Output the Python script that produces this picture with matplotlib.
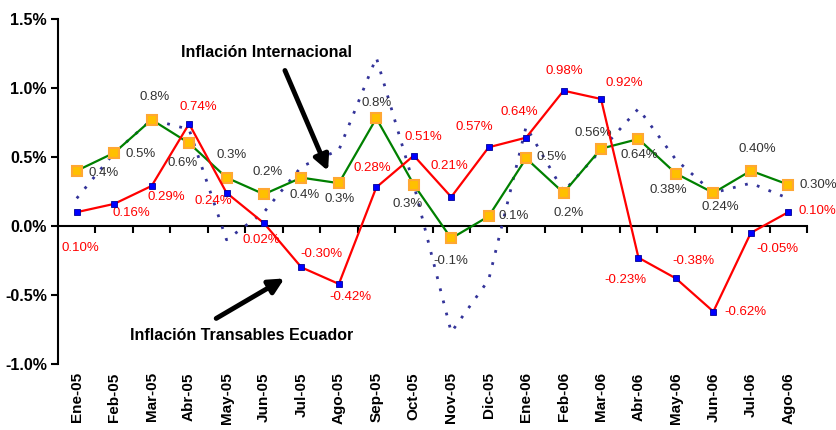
import matplotlib
matplotlib.use("Agg")
import matplotlib.pyplot as plt
import numpy as np

plt.rcParams['font.family'] = ['Liberation Sans', 'DejaVu Sans']

# Datos (% mensual)
meses = ["Ene-05", "Feb-05", "Mar-05", "Abr-05", "May-05", "Jun-05", "Jul-05",
         "Ago-05", "Sep-05", "Oct-05", "Nov-05", "Dic-05", "Ene-06", "Feb-06",
         "Mar-06", "Abr-06", "May-06", "Jun-06", "Jul-06", "Ago-06"]

transables = [0.10, 0.16, 0.29, 0.74, 0.24, 0.02, -0.30, -0.42, 0.28, 0.51,
              0.21, 0.57, 0.64, 0.98, 0.92, -0.23, -0.38, -0.62, -0.05, 0.10]
transables_txt = ["0.10%", "0.16%", "0.29%", "0.74%", "0.24%", "0.02%", "-0.30%",
                  "-0.42%", "0.28%", "0.51%", "0.21%", "0.57%", "0.64%", "0.98%",
                  "0.92%", "-0.23%", "-0.38%", "-0.62%", "-0.05%", "0.10%"]

verde = [0.40, 0.53, 0.77, 0.60, 0.35, 0.23, 0.35, 0.31, 0.78, 0.30,
         -0.09, 0.07, 0.49, 0.24, 0.56, 0.63, 0.38, 0.24, 0.40, 0.30]
verde_txt = ["0.4%", "0.5%", "0.8%", "0.6%", "0.3%", "0.2%", "0.4%", "0.3%",
             "0.8%", "0.3%", "-0.1%", "0.1%", "0.5%", "0.2%", "0.56%", "0.64%",
             "0.38%", "0.24%", "0.40%", "0.30%"]

internacional = [0.20, 0.53, 0.77, 0.70, -0.10, 0.10, 0.43, 0.55, 1.22, 0.30,
                 -0.77, -0.39, 0.72, 0.25, 0.55, 0.85, 0.48, 0.24, 0.31, 0.20]

# desplazamiento de las etiquetas (pixeles)
off_rojo = [(4, -36), (17, -9), (15, -11), (9, 17), (-13, -8), (-3, -17), (20, 13),
            (12, -13), (-4, 19), (10, 19), (-2, 31), (-14, 20), (-7, 26), (1, 20),
            (23, 16), (-13, -22), (18, 17), (32, 0), (27, -16), (29, 1)]
off_verde = [(27, -2), (26, -1), (3, 23), (-6, -20), (5, 23), (4, 22), (3, -17),
             (1, -16), (0, 15), (-6, -19), (0, -23), (25, 0), (25, 1), (5, -20),
             (-8, 16), (1, -16), (-8, -16), (7, -14), (6, 22), (30, 0)]

fig = plt.figure(figsize=(8.36, 4.30), dpi=100)
ax = fig.add_axes([0.0694, 0.1535, 0.8959, 0.8025])
x = np.arange(len(meses))

ax.plot(x, internacional, color='#333399', lw=2, linestyle=(0, (1, 3.5)), zorder=2)
ax.plot(x, verde, color='#008000', lw=1.6, marker='s', ms=7.5,
        mfc='#FFC000', mec='#FFA733', mew=1.5, zorder=3)
ax.plot(x, transables, color='#FF0000', lw=1.6, marker='s', ms=4.5,
        mfc='#0000FF', mec='#000099', mew=0.6, zorder=4)

for i in range(len(x)):
  ax.annotate(transables_txt[i], (x[i], transables[i]), xytext=off_rojo[i],
              textcoords='offset pixels', ha='center', va='center',
              fontsize=9.5, color='#FF0000')
  ax.annotate(verde_txt[i], (x[i], verde[i]), xytext=off_verde[i],
              textcoords='offset pixels', ha='center', va='center',
              fontsize=9.5, color='#333333')

# Ejes
ymin, ymax = -1.0, 1.5
ax.set_xlim(-0.5, len(meses) - 0.5)
ax.set_ylim(ymin, ymax)
ax.set_yticks([-1.0, -0.5, 0.0, 0.5, 1.0, 1.5])
ax.set_yticklabels([f"{v:.1f}%" for v in [-1.0, -0.5, 0.0, 0.5, 1.0, 1.5]],
                   fontsize=11.5, fontweight='bold')
ax.tick_params(axis='y', direction='out', length=5, width=1.5, pad=3)
ax.set_xticks(x)
ax.set_xticklabels(meses, rotation=90, fontsize=11, fontweight='bold', va='top')
ax.tick_params(axis='x', length=0, pad=6)
for s in ['top', 'right', 'bottom']:
  ax.spines[s].set_visible(False)
ax.spines['left'].set_linewidth(1.5)

# linea del cero con marcas
sec = ax.secondary_xaxis((0 - ymin) / (ymax - ymin))
sec.set_xticks(np.arange(0.5, len(meses), 1))
sec.tick_params(axis='x', direction='out', length=5, width=1.5,
                labelbottom=False, labeltop=False, bottom=True, top=False)
sec.spines['bottom'].set_linewidth(1.5)

# Flechas y textos
ax.annotate("", xy=(6.74, 0.38), xytext=(5.53, 1.145),
            arrowprops=dict(arrowstyle='-|>,head_length=0.9,head_width=0.45',
                            lw=3.5, color='black'))
ax.text(5.08, 1.26, "Inflación Internacional", fontsize=11.5, fontweight='bold',
        ha='center', va='center')
ax.annotate("", xy=(5.61, -0.37), xytext=(3.66, -0.68),
            arrowprops=dict(arrowstyle='-|>,head_length=0.9,head_width=0.45',
                            lw=3.5, color='black'))
ax.text(4.41, -0.79, "Inflación Transables Ecuador", fontsize=11.5, fontweight='bold',
        ha='center', va='center')

fig.savefig("out.png", dpi=100)
